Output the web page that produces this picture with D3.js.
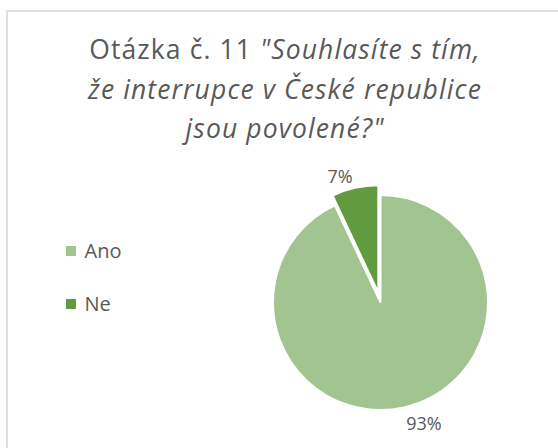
<!DOCTYPE html>
<html>
<head>
<meta charset="utf-8">
<script src="https://cdn.jsdelivr.net/npm/d3@7"></script>
<style>
    body { margin: 0; background: #fff; }
    text { font-family: "Open Sans", sans-serif; fill: #595959; }
</style>
</head>
<body>
<svg id="chart" width="558" height="448"></svg>
<script>
var categories = ["Ano", "Ne"];
var values = [93, 7];
var valueLabels = ["93%", "7%"];
var colours = ["#a2c490", "#629b3f"];
var explode = [0, 10];
var titleLines = [
    [{'text': "Otázka č. 11 ", 'italic': false}, {'text': "\"Souhlasíte s tím,", 'italic': true}],
    [{'text': "že interrupce v České republice", 'italic': true}],
    [{'text': "jsou povolené?\"", 'italic': true}]
];

var svg = d3.select("#chart");
var cx = 380.5, cy = 302.5, radius = 107.5;

// chart frame (runs off the right and bottom edge like the screenshot)
svg.append("rect")
    .attr("x", 7).attr("y", 11)
    .attr("width", 620).attr("height", 520)
    .attr("fill", "#fff")
    .attr("stroke", "#d9d9d9")
    .attr("stroke-width", 1.6);

// title, spaced out a little like the excel style
var titleY = d3.scaleLinear().domain([0, 2]).range([59, 138]);
titleLines.forEach(function(line, i) {
    var t = svg.append("text")
        .attr("x", 285)
        .attr("y", titleY(i))
        .attr("text-anchor", "middle")
        .style("font-size", "26.5px")
        .style("letter-spacing", "1.1px");
    t.selectAll("tspan").data(line).enter()
        .append("tspan")
        .style("font-style", d => d.italic ? "italic" : "normal")
        .text(d => d.text);
});

// pie
var pie = d3.pie().sort(null).startAngle(0).endAngle(2 * Math.PI);
var arcs = pie(values);
var arc = d3.arc().innerRadius(0).outerRadius(radius);

function offset(d, r) {
    var mid = (d.startAngle + d.endAngle) / 2;
    return [Math.sin(mid) * r, -Math.cos(mid) * r];
}

var g = svg.append("g").attr("transform", "translate(" + cx + "," + cy + ")");

g.selectAll("path.slice").data(arcs).enter()
    .append("path")
    .attr("class", "slice")
    .attr("d", arc)
    .attr("transform", (d, i) => "translate(" + offset(d, explode[i]) + ")")
    .attr("fill", (d, i) => colours[i])
    .attr("stroke", "#fff")
    .attr("stroke-width", 2);

// labels sit just outside the end of each slice
g.selectAll("text.label").data(arcs).enter()
    .append("text")
    .attr("class", "label")
    .attr("x", (d, i) => offset(d, explode[i] + radius + 10)[0])
    .attr("y", (d, i) => offset(d, explode[i] + radius + 10)[1])
    .attr("dy", d => Math.cos((d.startAngle + d.endAngle) / 2) > 0 ? "0.25em" : "0.72em")
    .attr("text-anchor", d => Math.sin((d.startAngle + d.endAngle) / 2) < 0 ? "end" : "start")
    .style("font-size", "18px")
    .text((d, i) => valueLabels[i]);

// legend
var legendY = d3.scalePoint().domain(categories).range([246, 299]);
var legend = svg.selectAll("g.legend").data(categories).enter()
    .append("g")
    .attr("class", "legend")
    .attr("transform", d => "translate(66," + legendY(d) + ")");
legend.append("rect")
    .attr("width", 10).attr("height", 10)
    .attr("fill", (d, i) => colours[i]);
legend.append("text")
    .attr("x", 18.5).attr("y", 11.5)
    .style("font-size", "20px")
    .text(d => d);
</script>
</body>
</html>
